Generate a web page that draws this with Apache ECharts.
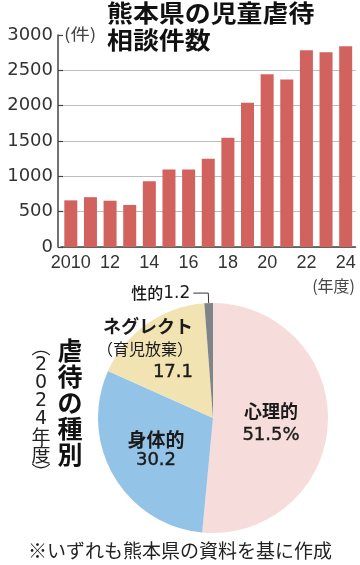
<!DOCTYPE html>
<html><head><meta charset="utf-8">
<script src="https://cdn.jsdelivr.net/npm/echarts@6/dist/echarts.min.js"></script>
<style>html,body{margin:0;padding:0;background:#fff}#c{width:360px;height:565px}</style>
</head><body><div id="c"></div>
<script>
// ---- data ----
const years = ['2010','2011','2012','2013','2014','2015','2016','2017','2018','2019','2020','2021','2022','2023','2024'];
const counts = [660, 705, 655, 595, 930, 1095, 1095, 1250, 1545, 2040, 2445, 2370, 2785, 2756, 2841];
const yMin = 0, yMax = 3000, yStep = 500;
const typeNames = ['心理的', '身体的', 'ネグレクト', '性的'];
const typeNotes = ['', '', '（育児放棄）', ''];
const typeShares = [51.5, 30.2, 17.1, 1.2];
const typeColors = ['#F6DCDA', '#93C3E6', '#F2E3B3', '#7E8488'];
const titleLines = ['熊本県の児童虐待', '相談件数'];
const pieTitle = '虐待の種別';
const pieYear = ['︵','2','0','2','4','年','度','︶'];
const footnote = '※いずれも熊本県の資料を基に作成';

const CJK = '"Noto Sans CJK JP", sans-serif';
const ink = '#1a1a1a';

const gridColors = [];
for (let v = yMin; v <= yMax; v += yStep) gridColors.push(v === yMax ? 'rgba(0,0,0,0)' : '#bdbdbd');

function pieLabel(i) {
  const name = typeNames[i], note = typeNotes[i];
  const val = String(typeShares[i]) + (i === 0 ? '%' : '');
  if (i === 3) {
    return {
      position: 'outside', distanceToLabelLine: 3,
      formatter: '{n|' + name + '}{v|' + val + '}',
      rich: {
        n: {fontFamily: CJK, fontSize: 16, color: ink, fontWeight: 500},
        v: {fontFamily: 'DejaVu Sans', fontSize: 17, color: ink}
      }
    };
  }
  const lh = [24, 21, 23][i];
  const al = i === 2 ? 'right' : 'center';
  const nameSize = [18, 19, 18][i];
  let f = '{n|' + name + '}\n';
  if (note) f += '{s|' + note + '}\n';
  f += '{v|' + val + '}';
  return {
    position: 'inside', formatter: f, align: al,
    rich: {
      n: {fontFamily: CJK, fontSize: nameSize, fontWeight: 'bold', color: ink, lineHeight: lh, align: al},
      s: {fontFamily: CJK, fontSize: 16, color: ink, lineHeight: lh, align: al},
      v: {fontFamily: 'DejaVu Sans', fontSize: 18, color: ink, lineHeight: lh, align: al, textBorderColor: ink, textBorderWidth: 0.4}
    }
  };
}

const pieData = typeNames.map((n, i) => ({
  name: n, value: typeShares[i],
  itemStyle: {color: typeColors[i]},
  label: pieLabel(i),
  labelLine: {show: i === 3, length: 10, length2: 15, lineStyle: {color: '#333', width: 1}}
}));

const labelSpots = [
  {x: 271, y: 423, align: 'center'},
  {x: 156, y: 450, align: 'center'},
  {x: 193, y: 349, align: 'right'}
];

const yearRich = pieYear.map(c => (/[0-9]/.test(c) ? '{d|' + c + '}' : '{c|' + c + '}')).join('\n');

const chart = echarts.init(document.getElementById('c'), null, {renderer: 'canvas'});
chart.setOption({
  animation: false,
  backgroundColor: '#fff',
  grid: {left: 61, top: 35, width: 294.5, height: 212, containLabel: false},
  xAxis: {
    type: 'category', data: years,
    axisLine: {lineStyle: {color: '#444', width: 1.5}},
    axisTick: {show: false},
    axisLabel: {
      interval: 1, margin: 7, color: '#333', fontSize: 18,
      fontFamily: '"Liberation Sans", Arial, sans-serif',
      formatter: (v, i) => i === 0 ? v : v.slice(2)
    }
  },
  yAxis: {
    type: 'value', min: yMin, max: yMax, interval: yStep, offset: 3,
    axisLine: {show: true, lineStyle: {color: '#444', width: 1.5}},
    axisTick: {show: true, inside: true, length: 5, lineStyle: {color: '#444', width: 1.2}},
    axisLabel: {margin: 5, color: '#333', fontSize: 18, fontFamily: '"DejaVu Sans", sans-serif', formatter: v => String(v)},
    splitLine: {show: true, lineStyle: {color: gridColors, width: 1}}
  },
  series: [
    {
      type: 'bar', data: counts, barWidth: 13,
      itemStyle: {color: '#D2625E'}
    },
    {
      type: 'pie', center: [213, 418], radius: 115,
      startAngle: 90, clockwise: true,
      data: pieData,
      itemStyle: {borderWidth: 0},
      emphasis: {disabled: true},
      labelLayout: function (p) {
        const s = labelSpots[p.dataIndex];
        if (!s) return {};
        return {x: s.x, y: s.y, align: s.align, verticalAlign: 'middle'};
      }
    }
  ],
  graphic: [
    {type: 'text', x: 107, y: 13, scaleX: 1.08, style: {text: titleLines[0], font: 'bold 24px ' + CJK, fill: '#111', textVerticalAlign: 'middle'}},
    {type: 'text', x: 107, y: 40, scaleX: 1.08, style: {text: titleLines[1], font: 'bold 24px ' + CJK, fill: '#111', textVerticalAlign: 'middle'}},
    {type: 'text', x: 64, y: 34, scaleX: 1.2, style: {text: '(件)', font: '16px ' + CJK, fill: '#444', textVerticalAlign: 'middle'}},
    {type: 'text', x: 355, y: 286, style: {text: '(年度)', font: '16px ' + CJK, fill: '#444', textAlign: 'right', textVerticalAlign: 'middle'}},
    {type: 'text', x: 70, y: 337, style: {text: pieTitle.split('').join('\n'), font: 'bold 25px ' + CJK, lineHeight: 26, fill: '#111', textAlign: 'center', textVerticalAlign: 'top'}},
    {type: 'text', x: 41, y: 338, style: {
      text: yearRich, textAlign: 'center', textVerticalAlign: 'top', fill: '#222',
      rich: {
        c: {fontFamily: CJK, fontSize: 19, lineHeight: 18, fill: '#222', align: 'center'},
        d: {fontFamily: '"DejaVu Sans", sans-serif', fontSize: 19, lineHeight: 18, fill: '#222', align: 'center'}
      }
    }},
    {type: 'text', x: 180, y: 551, style: {text: footnote, font: '19px ' + CJK, fill: '#222', textAlign: 'center', textVerticalAlign: 'middle'}}
  ]
});
</script></body></html>
